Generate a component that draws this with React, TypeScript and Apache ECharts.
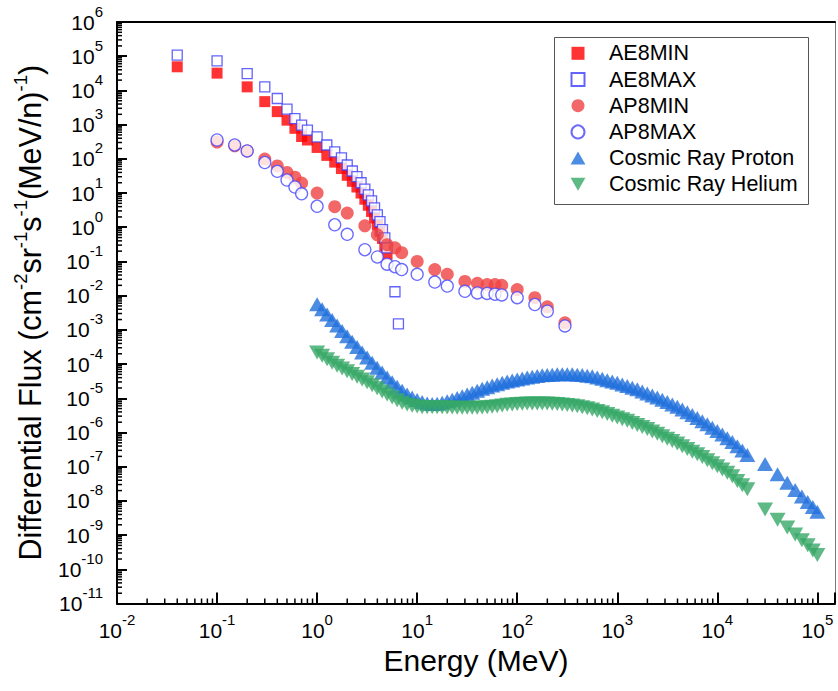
import React, { useEffect, useRef } from 'react';
import * as echarts from 'echarts';

const FONT = "'Liberation Sans', Arial, Helvetica, sans-serif";

// AE8 electron model (energy MeV, flux)
const ae8MinEnergy = [0.04, 0.1, 0.2, 0.3, 0.4, 0.5, 0.6, 0.7, 0.8, 1.0, 1.25, 1.5, 1.75, 2.0, 2.25, 2.5, 2.75, 3.0, 3.25, 3.5, 3.75, 4.0, 4.25, 4.5, 4.75, 5.0];
const ae8MinFlux = [4.9e4, 3.2e4, 1.27e4, 4.7e3, 2.4e3, 1.35e3, 780, 450, 355, 215, 126, 80, 52, 33, 22, 15, 10, 6.6, 4.4, 2.9, 1.85, 1.17, 0.76, 0.47, 0.28, 0.16];
const ae8MaxEnergy = [0.04, 0.1, 0.2, 0.3, 0.4, 0.5, 0.6, 0.7, 0.8, 1.0, 1.25, 1.5, 1.75, 2.0, 2.25, 2.5, 2.75, 3.0, 3.25, 3.5, 3.75, 4.0, 4.25, 4.5, 4.75, 5.0, 6.0, 6.5];
const ae8MaxFlux = [1.07e5, 7.3e4, 3.1e4, 1.27e4, 5.8e3, 2.85e3, 1.5e3, 970, 690, 440, 254, 159, 107, 66, 44, 30, 20, 13, 8.8, 5.9, 3.7, 2.3, 1.45, 0.85, 0.49, 0.25, 0.013, 1.5e-3];

// AP8 proton model
const ap8Energy = [0.1, 0.15, 0.2, 0.3, 0.4, 0.5, 0.6, 0.7, 1, 1.5, 2, 3, 4, 5, 6, 7, 10, 15, 20, 30, 40, 50, 60, 70, 100, 150, 200, 300];
const ap8MinFlux = [310, 240, 170, 98, 62, 40, 29, 19.5, 10, 4.0, 2.6, 1.1, 0.6, 0.31, 0.25, 0.18, 0.1, 0.058, 0.042, 0.026, 0.023, 0.021, 0.021, 0.02, 0.015, 0.0087, 0.0047, 0.0016];
const ap8MaxFlux = [355, 254, 170, 78, 43, 24, 15, 9.5, 4.1, 1.18, 0.62, 0.22, 0.135, 0.083, 0.07, 0.058, 0.042, 0.025, 0.019, 0.0134, 0.012, 0.0116, 0.011, 0.0105, 0.0087, 0.0055, 0.0035, 0.0013];

// Cosmic ray spectra (energy MeV/n), flux given as log10 values
const cosmicEnergy = [
  1, 1.122, 1.259, 1.413, 1.585, 1.778, 1.995, 2.239, 2.512, 2.818,
  3.162, 3.548, 3.981, 4.467, 5.012, 5.623, 6.31, 7.079, 7.943, 8.913,
  10, 11.22, 12.59, 14.13, 15.85, 17.78, 19.95, 22.39, 25.12, 28.18,
  31.62, 35.48, 39.81, 44.67, 50.12, 56.23, 63.1, 70.79, 79.43, 89.13,
  100, 112.2, 125.9, 141.3, 158.5, 177.8, 199.5, 223.9, 251.2, 281.8,
  316.2, 354.8, 398.1, 446.7, 501.2, 562.3, 631, 707.9, 794.3, 891.3,
  1000, 1122, 1259, 1413, 1585, 1778, 1995, 2239, 2512, 2818,
  3162, 3548, 3981, 4467, 5012, 5623, 6310, 7079, 7943, 8913,
  10000, 11220, 12590, 14130, 15850, 17780, 19950,
  30000, 40000, 50000, 60000, 70000, 80000, 90000, 100000,
];
const protonLogFlux = [
  -2.25, -2.40, -2.55, -2.71, -2.87, -3.03, -3.19, -3.35, -3.50, -3.66,
  -3.81, -3.96, -4.11, -4.25, -4.39, -4.53, -4.66, -4.78, -4.89, -4.98,
  -5.05, -5.11, -5.15, -5.17, -5.16, -5.13, -5.09, -5.04, -4.99, -4.94,
  -4.89, -4.84, -4.78, -4.72, -4.68, -4.63, -4.59, -4.55, -4.51, -4.48,
  -4.45, -4.42, -4.39, -4.37, -4.35, -4.33, -4.32, -4.31, -4.30, -4.30,
  -4.30, -4.30, -4.31, -4.32, -4.34, -4.36, -4.39, -4.43, -4.47, -4.51,
  -4.55, -4.60, -4.64, -4.69, -4.74, -4.80, -4.86, -4.92, -4.98, -5.04,
  -5.11, -5.18, -5.25, -5.33, -5.41, -5.49, -5.58, -5.67, -5.76, -5.86,
  -5.96, -6.06, -6.17, -6.28, -6.40, -6.53, -6.66,
  -6.92, -7.22, -7.47, -7.68, -7.87, -8.03, -8.18, -8.32,
];
const heliumLogFlux = [
  -3.66, -3.76, -3.86, -3.96, -4.05, -4.13, -4.21, -4.29, -4.37, -4.45,
  -4.53, -4.62, -4.71, -4.80, -4.89, -4.98, -5.06, -5.13, -5.18, -5.22,
  -5.24, -5.26, -5.26, -5.26, -5.26, -5.26, -5.27, -5.27, -5.28, -5.28,
  -5.28, -5.28, -5.28, -5.27, -5.26, -5.25, -5.23, -5.21, -5.19, -5.18,
  -5.17, -5.16, -5.15, -5.15, -5.15, -5.15, -5.15, -5.16, -5.17, -5.18,
  -5.20, -5.21, -5.23, -5.26, -5.29, -5.33, -5.37, -5.41, -5.46, -5.51,
  -5.56, -5.61, -5.66, -5.72, -5.78, -5.84, -5.90, -5.97, -6.04, -6.11,
  -6.18, -6.25, -6.32, -6.40, -6.48, -6.56, -6.64, -6.72, -6.81, -6.90,
  -6.99, -7.08, -7.18, -7.28, -7.42, -7.54, -7.66,
  -8.25, -8.55, -8.78, -8.98, -9.15, -9.30, -9.45, -9.58,
];

const legendNames = ['AE8MIN', 'AE8MAX', 'AP8MIN', 'AP8MAX', 'Cosmic Ray Proton', 'Cosmic Ray Helium'];
const legendIcons = [
  'path://M0,0L10,0L10,10L0,10Z',
  'path://M0,0L10,0L10,10L0,10Z',
  'circle',
  'circle',
  'path://M8,0L16,14L0,14Z',
  'path://M0,0L16,0L8,14Z',
];

const X_MIN = 0.01;
const X_MAX = 1.5e5;
const Y_MIN = 1e-11;
const Y_MAX = 1e6;

const zip = (xs: number[], ys: number[]) => xs.map((x, i) => [x, ys[i]]);
const zipLog = (xs: number[], ls: number[]) => xs.map((x, i) => [x, Math.pow(10, ls[i])]);

function minorTickValues(lo: number, hi: number, max: number) {
  const out: number[] = [];
  for (let e = lo; e <= hi; e++) {
    for (let m = 2; m <= 9; m++) {
      const v = m * Math.pow(10, e);
      if (v < max) out.push(v);
    }
  }
  return out;
}

const powLabel = (v: number) => {
  const l = Math.log10(v);
  const e = Math.round(l);
  if (Math.abs(l - e) > 1e-6) return '';
  return `{b|10}{s|${e}}`;
};

const tickRich = {
  b: { fontSize: 21, fontFamily: FONT, color: '#000' },
  s: { fontSize: 15, fontFamily: FONT, color: '#000', padding: [0, 0, 22, 0] },
};

export default function App() {
  const ref = useRef<HTMLDivElement>(null);
  useEffect(() => {
    document.body.style.margin = '0';
    if (!ref.current) return;
    const chart = echarts.init(ref.current, undefined, { renderer: 'svg' });

    const xMinor = minorTickValues(-2, 4, X_MAX).map((v) => [v, Y_MIN]);
    const yMinor = minorTickValues(-11, 5, Y_MAX).map((v) => [X_MIN, v]);

    const option: any = {
      animation: false,
      backgroundColor: '#fff',
      grid: { left: 117, right: 2, top: 22, bottom: 87.5, containLabel: false },
      xAxis: [
        {
          type: 'log',
          logBase: 10,
          min: X_MIN,
          max: X_MAX,
          interval: 1,
          name: 'Energy (MeV)',
          nameLocation: 'middle',
          nameGap: 38,
          nameTextStyle: { fontSize: 30, fontFamily: FONT, color: '#000' },
          axisLine: { show: true, onZero: false, lineStyle: { color: '#000', width: 2 } },
          axisTick: { show: true, inside: true, length: 11, lineStyle: { color: '#000', width: 2 } },
          axisLabel: { formatter: powLabel, margin: 8, rich: tickRich },
          splitLine: { show: false },
        },
        {
          type: 'log',
          logBase: 10,
          min: X_MIN,
          max: X_MAX,
          position: 'top',
          axisLine: { show: true, onZero: false, lineStyle: { color: '#000', width: 2 } },
          axisTick: { show: false },
          axisLabel: { show: false },
          splitLine: { show: false },
        },
      ],
      yAxis: [
        {
          type: 'log',
          logBase: 10,
          min: Y_MIN,
          max: Y_MAX,
          interval: 1,
          name: '{m|Differential Flux (cm}{s|-2}{m|sr}{s|-1}{m|s}{s|-1}{m|(MeV/n)}{s|-1}{m|)}',
          nameLocation: 'middle',
          nameRotate: 90,
          nameGap: 69,
          nameTextStyle: {
            color: '#000',
            rich: {
              m: { fontSize: 30.5, fontFamily: FONT, color: '#000' },
              s: { fontSize: 18.5, fontFamily: FONT, color: '#000', padding: [0, 0, 18, 0] },
            },
          },
          axisLine: { show: true, onZero: false, lineStyle: { color: '#000', width: 2 } },
          axisTick: { show: true, inside: true, length: 10, lineStyle: { color: '#000', width: 2 } },
          axisLabel: { formatter: powLabel, margin: 14, rich: tickRich },
          splitLine: { show: false },
        },
        {
          type: 'log',
          logBase: 10,
          min: Y_MIN,
          max: Y_MAX,
          position: 'right',
          axisLine: { show: true, onZero: false, lineStyle: { color: '#777', width: 1 } },
          axisTick: { show: false },
          axisLabel: { show: false },
          splitLine: { show: false },
        },
      ],
      legend: {
        orient: 'vertical',
        left: 570.5,
        top: 42.3,
        padding: 0,
        itemGap: 4.2,
        itemWidth: 17,
        itemHeight: 13,
        data: legendNames.map((name, i) => ({ name, icon: legendIcons[i] })),
        selectedMode: false,
        textStyle: { fontSize: 21.5, lineHeight: 20, fontFamily: FONT, color: '#000', padding: [0, 0, 0, 17.5] },
      },
      graphic: [
        {
          type: 'rect',
          left: 552,
          top: 35,
          shape: { width: 254, height: 167 },
          style: { fill: 'none', stroke: '#555', lineWidth: 1 },
          silent: true,
          z: 10,
        },
      ],
      series: [
        {
          name: 'AE8MIN',
          type: 'scatter',
          data: zip(ae8MinEnergy, ae8MinFlux),
          symbol: 'rect',
          symbolSize: 11,
          itemStyle: { color: '#ff0000' },
        },
        {
          name: 'AE8MAX',
          type: 'scatter',
          data: zip(ae8MaxEnergy, ae8MaxFlux),
          symbol: 'rect',
          symbolSize: 10,
          itemStyle: { color: '#ffffff', borderColor: '#3c3cff', borderWidth: 1.3 },
        },
        {
          name: 'AP8MIN',
          type: 'scatter',
          data: zip(ap8Energy, ap8MinFlux),
          symbol: 'circle',
          symbolSize: 13,
          itemStyle: { color: '#ef4242' },
        },
        {
          name: 'AP8MAX',
          type: 'scatter',
          data: zip(ap8Energy, ap8MaxFlux),
          symbol: 'circle',
          symbolSize: 12,
          itemStyle: { color: '#ffffff', borderColor: '#4646ff', borderWidth: 1.3 },
        },
        {
          name: 'Cosmic Ray Proton',
          type: 'scatter',
          data: zipLog(cosmicEnergy, protonLogFlux),
          symbol: 'triangle',
          symbolSize: [16, 14],
          itemStyle: { color: '#1f6fdc' },
        },
        {
          name: 'Cosmic Ray Helium',
          type: 'scatter',
          data: zipLog(cosmicEnergy, heliumLogFlux),
          symbol: 'triangle',
          symbolRotate: 180,
          symbolSize: [16, 14],
          itemStyle: { color: '#36a766' },
        },
        {
          type: 'custom',
          silent: true,
          clip: false,
          z: 5,
          data: xMinor,
          renderItem: (_p: any, api: any) => {
            const pt = api.coord([api.value(0), api.value(1)]);
            return {
              type: 'line',
              shape: { x1: pt[0], y1: pt[1], x2: pt[0], y2: pt[1] - 5 },
              style: { stroke: '#000', lineWidth: 1.5 },
            };
          },
        },
        {
          type: 'custom',
          silent: true,
          clip: false,
          z: 5,
          data: yMinor,
          renderItem: (_p: any, api: any) => {
            const pt = api.coord([api.value(0), api.value(1)]);
            return {
              type: 'line',
              shape: { x1: pt[0], y1: pt[1], x2: pt[0] + 5, y2: pt[1] },
              style: { stroke: '#000', lineWidth: 1.5 },
            };
          },
        },
      ],
    };

    chart.setOption(option);
    return () => chart.dispose();
  }, []);

  return <div ref={ref} style={{ width: 838, height: 691 }} />;
}
